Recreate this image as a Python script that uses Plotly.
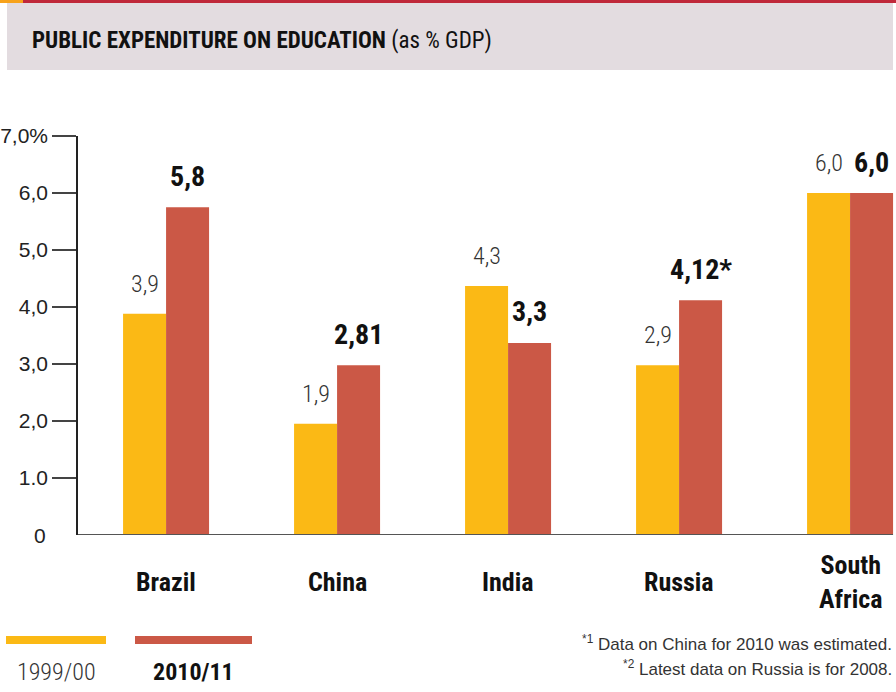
import plotly.graph_objects as go

# ---- data ----
countries = ["Brazil", "China", "India", "Russia", "South<br>Africa"]
values_1999 = [3.88, 1.95, 4.37, 2.98, 6.0]
values_2010 = [5.75, 2.98, 3.37, 4.12, 6.0]
labels_1999 = ["3,9", "1,9", "4,3", "2,9", "6,0"]
labels_2010 = ["5,8", "2,81", "3,3", "4,12*", "6,0"]
series_names = ["1999/00", "2010/11"]
ytick_vals = [1, 2, 3, 4, 5, 6, 7]
ytick_text = ["1.0", "2,0", "3,0", "4,0", "5,0", "6,0", "7,0%"]
footnotes = ["<sup>*1</sup> Data on China for 2010 was estimated.",
             "<sup>*2</sup> Latest data on Russia is for 2008."]

YELLOW = "#FBB915"
RED = "#CB5846"
COND = "Roboto Condensed, Roboto, sans-serif"
PLAIN = "Liberation Sans, Arial, sans-serif"

W, H = 896, 692
L, R, T, B = 78, 0, 136, 157
PW, PH = W - L - R, H - T - B

def px(x):
    return (x - L) / PW

def py(y):
    return (H - B - y) / PH

xs = list(range(len(countries)))
bw = 0.2515

fig = go.Figure()
fig.add_trace(go.Bar(x=xs, y=values_1999, width=bw, offset=-bw,
                     marker=dict(color=YELLOW, line=dict(width=0)),
                     name=series_names[0], hoverinfo="skip"))
fig.add_trace(go.Bar(x=xs, y=values_2010, width=bw, offset=0,
                     marker=dict(color=RED, line=dict(width=0)),
                     name=series_names[1], hoverinfo="skip"))

ann = []
for i in xs:
    ann.append(dict(x=i - bw / 2, y=values_1999[i], xref="x", yref="y",
                    text=labels_1999[i], showarrow=False, xanchor="center", yanchor="middle",
                    yshift=30, font=dict(family=COND, size=24, color="#333", weight=300)))
    ann.append(dict(x=i + bw / 2, y=values_2010[i], xref="x", yref="y",
                    text="<b>" + labels_2010[i] + "</b>", showarrow=False,
                    xanchor="center", yanchor="middle",
                    yshift=31, font=dict(family=COND, size=28, color="#111")))
    ann.append(dict(x=i, y=py(582), xref="x", yref="paper",
                    text="<b>" + countries[i] + "</b>", showarrow=False,
                    xanchor="center", yanchor="middle",
                    font=dict(family=COND, size=26, color="#111")))

# zero label
ann.append(dict(x=px(48), y=0, xref="paper", yref="y", text="0", showarrow=False,
                xanchor="right", yanchor="middle", font=dict(family=PLAIN, size=21, color="#222")))

# title
ann.append(dict(x=px(30), y=py(40), xref="paper", yref="paper", xanchor="left", yanchor="middle",
                text="<b>PUBLIC EXPENDITURE ON EDUCATION</b> (as % GDP)", showarrow=False,
                font=dict(family=COND, size=23, color="#111")))

# legend texts
ann.append(dict(x=px(56), y=py(672), xref="paper", yref="paper", text=series_names[0],
                showarrow=False, xanchor="center", yanchor="middle",
                font=dict(family=COND, size=24, color="#333", weight=300)))
ann.append(dict(x=px(193), y=py(672), xref="paper", yref="paper", text="<b>" + series_names[1] + "</b>",
                showarrow=False, xanchor="center", yanchor="middle",
                font=dict(family=COND, size=24, color="#111")))

# footnotes
for k, f in enumerate(footnotes):
    ann.append(dict(x=px(894), y=py(643 + 25 * k), xref="paper", yref="paper", text=f,
                    showarrow=False, xanchor="right", yanchor="middle",
                    font=dict(family=PLAIN, size=17, color="#333")))

shapes = [
    # header
    dict(type="rect", xref="paper", yref="paper", x0=px(7), x1=px(893), y0=py(3), y1=py(70),
         fillcolor="#E3DCE0", line=dict(width=0), layer="below"),
    dict(type="rect", xref="paper", yref="paper", x0=px(0), x1=px(23), y0=py(0), y1=py(3),
         fillcolor="#F7A21B", line=dict(width=0)),
    dict(type="rect", xref="paper", yref="paper", x0=px(23), x1=px(896), y0=py(0), y1=py(3),
         fillcolor="#C0283A", line=dict(width=0)),
    # x axis baseline
    dict(type="line", xref="paper", yref="y", x0=0, x1=px(893), y0=0, y1=0,
         line=dict(color="#555", width=2)),
    # legend swatches
    dict(type="rect", xref="paper", yref="paper", x0=px(6), x1=px(106), y0=py(636), y1=py(644),
         fillcolor=YELLOW, line=dict(width=0)),
    dict(type="rect", xref="paper", yref="paper", x0=px(135), x1=px(252), y0=py(636), y1=py(644),
         fillcolor=RED, line=dict(width=0)),
]

fig.update_layout(
    width=W, height=H,
    margin=dict(l=L, r=R, t=T, b=B),
    paper_bgcolor="white", plot_bgcolor="white",
    showlegend=False,
    barmode="overlay",
    annotations=ann, shapes=shapes,
    xaxis=dict(range=[-0.515, -0.515 + PW / 171], showticklabels=False, showgrid=False,
               zeroline=False, showline=False, ticks="", fixedrange=True),
    yaxis=dict(range=[0, 7], tickvals=ytick_vals, ticktext=ytick_text, showgrid=False,
               zeroline=False, showline=True, linecolor="#222", linewidth=1.5,
               ticks="outside", ticklen=24, tickcolor="#444", tickwidth=1.5,
               tickfont=dict(family=PLAIN, size=21, color="#222"), fixedrange=True),
)

fig.write_html("out.html")
